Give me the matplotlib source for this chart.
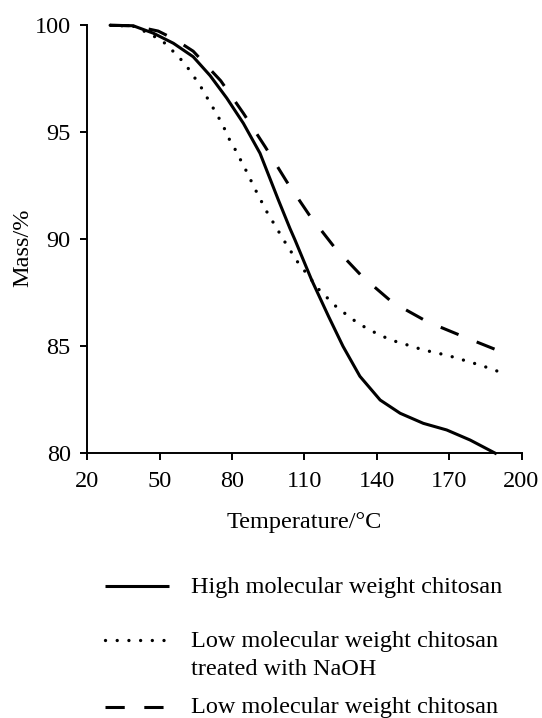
import matplotlib
matplotlib.use("Agg")
import matplotlib.pyplot as plt
from matplotlib.lines import Line2D

plt.rcParams['font.family'] = ['Liberation Serif', 'DejaVu Serif']
plt.rcParams['font.size'] = 17.5

# values (temperature in C, mass in %)
t_high = [29.5, 39, 47.4, 55.7, 63.9, 70.9, 77.8, 84.7, 91.6, 99.2, 104, 106.1,
          113, 120, 126, 133, 141.4, 149.7, 159.3, 169, 178.7, 189.7]
m_high = [100, 99.98, 99.63, 99.16, 98.53, 97.65, 96.6, 95.42, 94.02, 91.84,
          90.51, 89.97, 88.1, 86.4, 85.0, 83.6, 82.49, 81.87, 81.4, 81.09,
          80.62, 79.97]

t_naoh = [29.5, 39, 46, 51.5, 55, 58.4, 61.5, 64.4, 67.1, 69.5, 72, 74.5, 76.7, 78.6,
          81.2, 85.7, 89.9, 94.4, 96.9, 102, 107.2, 110.3, 116.2, 123.2, 127.1, 131,
          135.1, 139.6, 143.8, 148.5, 153.1, 157.6, 162.4, 167.2, 172, 176.7, 181.4,
          186.1, 190.7]
m_naoh = [100, 99.96, 99.6, 99.23, 98.85, 98.46, 98.04, 97.57, 97.12, 96.65, 96.17,
          95.68, 95.21, 94.73, 94.22, 93.24, 92.27, 91.29, 90.82, 89.86, 88.94, 88.49,
          87.63, 86.85, 86.51, 86.18, 85.89, 85.62, 85.4, 85.2, 85.05, 84.89, 84.75,
          84.63, 84.49, 84.33, 84.17, 84.0, 83.81]

t_low = [29.5, 39, 49.4, 56.5, 63.9, 75.3, 84.7, 93.7, 102.7, 112, 122.3, 133.8,
         146.4, 160.9, 176.6, 189.7, 193.8]
m_low = [100, 99.98, 99.73, 99.33, 98.79, 97.41, 95.89, 94.33, 92.69, 91.14, 89.65,
         88.28, 87.06, 86.15, 85.42, 84.83, 84.62]

labels = ['High molecular weight chitosan',
          'Low molecular weight chitosan',
          'treated with NaOH',
          'Low molecular weight chitosan']

x_ticks = [20, 50, 80, 110, 140, 170, 200]
y_ticks = [80, 85, 90, 95, 100]

W, H = 542, 718
L, R, T, B = 87.3, 521.5, 25.3, 453.3
fig = plt.figure(figsize=(W / 100, H / 100), dpi=100)
ax = fig.add_axes([L / W, 1 - B / H, (R - L) / W, (B - T) / H])

solid_kw = dict(color='black', lw=2.2, solid_capstyle='butt', solid_joinstyle='round')
dot_kw = dict(color='black', lw=2.4, linestyle=(0, (0.01, 3.5)), dash_capstyle='round')
dash_kw = dict(color='black', lw=2.2, linestyle=(0, (6.3, 6.4)), dash_capstyle='butt')

ax.plot(t_high, m_high, clip_on=False, **solid_kw)
ax.plot(t_naoh, m_naoh, clip_on=False, **dot_kw)
ax.plot(t_low, m_low, clip_on=False, **dash_kw)

ax.set_xlim(20, 200)
ax.set_ylim(80, 100)
ax.set_xticks(x_ticks)
ax.set_yticks(y_ticks)
for s in ['top', 'right']:
    ax.spines[s].set_visible(False)
for s in ['left', 'bottom']:
    ax.spines[s].set_linewidth(1.4)
ax.tick_params(direction='out', length=5, width=1.4, labelsize=17.5)
ax.tick_params(axis='x', pad=7.5)
ax.tick_params(axis='y', pad=7)

ax.set_xlabel('Temperature/°C', fontsize=17.5, va='baseline')
ax.xaxis.set_label_coords(0.5, -(528 - B) / (B - T))
ax.set_ylabel('Mass/%', fontsize=17.5)
ax.yaxis.set_label_coords(-(L - 33.5) / (R - L), (B - 248) / (B - T))

# key below the axes
handles = [(586, solid_kw), (640, dot_kw), (707, dash_kw)]
for yl, kw in handles:
    fig.add_artist(Line2D([105 / W, 169 / W], [1 - yl / H, 1 - yl / H],
                          transform=fig.transFigure, **kw))
for yb, lab in zip([592.7, 646.7, 675, 713], labels):
    fig.text(191 / W, 1 - yb / H, lab, fontsize=17.5, va='baseline', ha='left')

fig.savefig('out.png', dpi=100)
